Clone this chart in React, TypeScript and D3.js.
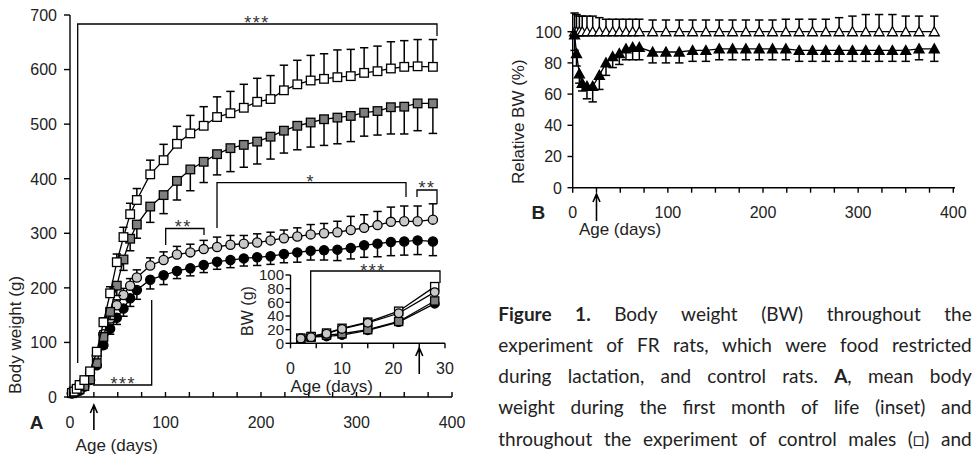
import React, { useEffect, useRef } from 'react';
import * as d3 from 'd3';

// ---------- DATA ----------
const days = [2, 4, 7, 10, 15, 21, 28, 35, 42, 49, 56, 63, 70, 84, 98, 112, 126, 140, 154, 168, 182, 196, 210, 224, 238, 252, 266, 280, 294, 308, 322, 336, 350, 364, 380];

const ctrlMale = [7.5, 10, 15, 22, 31, 47, 83, 137, 190, 247, 293, 335, 361, 408, 434, 464, 483, 497, 513, 520, 530, 541, 546, 562, 573, 580, 583, 586, 588, 594, 597, 602, 605, 606, 605];
const ctrlMaleErr = [0, 0, 1, 1, 2, 3, 5, 8, 12, 15, 18, 20, 21, 26, 29, 32, 33, 35, 37, 40, 43, 43, 43, 46, 44, 46, 46, 50, 49, 46, 46, 49, 48, 49, 50];

const frMale = [7, 9, 12, 14, 20, 32, 62, 110, 156, 204, 252, 290, 316, 349, 370, 396, 417, 431, 445, 456, 462, 468, 477, 488, 497, 503, 509, 512, 515, 521, 524, 531, 532, 538, 538];
const frMaleErr = [0, 0, 1, 1, 2, 3, 6, 10, 14, 18, 20, 22, 25, 29, 34, 35, 39, 38, 38, 43, 41, 41, 41, 41, 44, 45, 48, 48, 47, 43, 44, 49, 50, 50, 55];

const ctrlFemale = [7, 9, 14, 21, 30, 44, 75, 115, 144, 168, 187, 204, 219, 241, 251, 261, 265, 271, 275, 279, 281, 283, 287, 291, 294, 298, 300, 302, 306, 310, 315, 321, 322, 322, 325];
const ctrlFemaleErr = [0, 0, 1, 1, 2, 3, 4, 6, 8, 10, 12, 13, 14, 14, 15, 15, 15, 16, 18, 17, 15, 16, 15, 15, 16, 18, 18, 20, 25, 24, 25, 27, 28, 28, 29];

const frFemale = [7, 9, 10, 12, 19, 31, 58, 95, 125, 145, 162, 181, 196, 215, 223, 231, 236, 242, 248, 251, 254, 256, 258, 262, 265, 268, 269, 270, 273, 278, 281, 284, 285, 287, 285];
const frFemaleErr = [0, 0, 1, 1, 2, 3, 4, 6, 10, 12, 14, 15, 17, 17, 17, 14, 14, 14, 14, 14, 14, 15, 15, 16, 18, 17, 18, 20, 20, 22, 24, 25, 25, 26, 26];

const insetCount = 7; // first-month points shown in the inset

const relCtrl = [100, 100, 100, 100, 100, 100, 100, 100, 100, 100, 100, 100, 100, 100, 100, 100, 100, 100, 100, 100, 100, 100, 100, 100, 100, 100, 100, 100, 100, 100, 100, 100, 100, 100, 100];
const relCtrlErr = [12, 11, 10, 10, 10, 10, 9, 8, 8, 8, 8, 8, 8, 7.5, 7.5, 7.5, 7.5, 7.5, 7.5, 7.5, 7.5, 7.5, 7.5, 8, 8, 8, 8, 9, 10, 11, 11, 11, 10, 10, 10];
const relFR = [98, 86, 73, 67, 65, 65, 72, 80, 84, 86, 89, 90, 90, 87, 87, 87, 88, 88, 89, 89, 89, 89, 89, 89, 88, 88, 88, 88, 88, 88, 88, 88, 88, 89, 89];
const relFRErr = [10, 8, 6, 5, 8, 10, 9, 8, 7, 7, 7, 8, 8, 7, 7, 7, 7, 7, 7, 7, 7, 7, 7, 7, 7, 7, 7, 7, 7, 7, 7, 7, 7, 7, 8];

const yTicksA = [0, 100, 200, 300, 400, 500, 600, 700];
const xLabelsA = [0, 100, 200, 300, 400];
const yTicksInset = [0, 20, 40, 60, 80, 100];
const xLabelsInset = [0, 10, 20, 30];
const yTicksB = [0, 20, 40, 60, 80, 100];
const xLabelsB = [0, 100, 200, 300, 400];
const arrowDay = 25;

const captionLines = [
  '[Figure] [1.] Body weight (BW) throughout the',
  'experiment of FR rats, which were food restricted',
  'during lactation, and control rats. [A], mean body',
  'weight during the first month of life (inset) and',
  'throughout the experiment of control males (\u25A1) and',
];

// ---------- DRAWING ----------
const FONT = '"Liberation Sans", Arial, Helvetica, sans-serif';
const CAPFONT = 'Lato, "Open Sans", sans-serif';
const TXT = '#222';

type Sel = d3.Selection<SVGGElement, unknown, null, undefined>;

function drawSeries(
  g: Sel, xs: d3.ScaleLinear<number, number>, ys: d3.ScaleLinear<number, number>,
  dx: number[], vals: number[], errs: number[] | null, dir: number,
  shape: 'square' | 'circle' | 'triangle', fill: string, size: number,
) {
  const pts = dx.map((d, i) => ({ d, v: vals[i], e: errs ? errs[i] : 0 }));
  if (errs) {
    const eg = g.append('g').attr('stroke', '#000').attr('stroke-width', 1.5).attr('fill', 'none');
    pts.forEach((p) => {
      if (p.e <= 0) return;
      const cx = xs(p.d);
      const y0 = ys(p.v);
      const y1 = ys(p.v + dir * p.e);
      eg.append('line').attr('x1', cx).attr('x2', cx).attr('y1', y0).attr('y2', y1);
      eg.append('line').attr('x1', cx - 4.2).attr('x2', cx + 4.2).attr('y1', y1).attr('y2', y1);
    });
  }
  const line = d3.line<{ d: number; v: number }>().x((p) => xs(p.d)).y((p) => ys(p.v));
  g.append('path').attr('d', line(pts) as string).attr('fill', 'none').attr('stroke', '#000').attr('stroke-width', 1.3);
  const mg = g.append('g').attr('stroke', '#000').attr('stroke-width', 1.3).attr('fill', fill);
  pts.forEach((p) => {
    const cx = xs(p.d);
    const cy = ys(p.v);
    if (shape === 'square') {
      mg.append('rect').attr('x', cx - size / 2).attr('y', cy - size / 2).attr('width', size).attr('height', size);
    } else if (shape === 'circle') {
      mg.append('circle').attr('cx', cx).attr('cy', cy).attr('r', size / 2);
    } else {
      const h = size * 0.9;
      mg.append('path').attr('d', `M${cx},${cy - h * 0.55}L${cx + size / 2},${cy + h * 0.45}L${cx - size / 2},${cy + h * 0.45}Z`);
    }
  });
}

function arrow(g: Sel, x: number, y0: number, y1: number) {
  g.append('path')
    .attr('d', `M${x},${y1}V${y0}M${x - 3.5},${y0 + 8}L${x},${y0}L${x + 3.5},${y0 + 8}`)
    .attr('fill', 'none').attr('stroke', '#000').attr('stroke-width', 1.6);
}

function stars(g: Sel, x: number, yc: number, t: string, fs = 17) {
  g.append('text').attr('x', x).attr('y', yc + 0.57 * fs).attr('text-anchor', 'middle')
    .attr('font-family', FONT).attr('font-size', fs).attr('letter-spacing', 1.5).attr('fill', '#333').text(t);
}

function bracket(g: Sel, d: string) {
  g.append('path').attr('d', d).attr('fill', 'none').attr('stroke', '#000').attr('stroke-width', 1.3);
}

function draw(svgEl: SVGSVGElement) {
  const svg = d3.select(svgEl);
  svg.selectAll('*').remove();
  const root = svg.append('g') as unknown as Sel;

  // ===== Panel A =====
  const x = d3.scaleLinear().domain([0, 400]).range([70, 452]);
  const y = d3.scaleLinear().domain([0, 700]).range([397, 15]);
  const A = root.append('g') as unknown as Sel;

  // brackets
  bracket(A, `M77.7,363V24H437V36`);
  stars(A, 257, 18.5, '***', 18);
  bracket(A, `M93,385H151.7V300`);
  stars(A, 123.3, 379.5, '***', 18);
  bracket(A, `M165.7,245V228.5H204V235`);
  stars(A, 183.3, 222.5, '**', 18);
  bracket(A, `M217,228V182.7H406V197`);
  stars(A, 310.7, 177.5, '*', 18);
  bracket(A, `M417,197V190H437V204`);
  stars(A, 427, 183.5, '**', 18);

  drawSeries(A, x, y, days, frFemale, frFemaleErr, -1, 'circle', '#000', 9.2);
  drawSeries(A, x, y, days, ctrlFemale, ctrlFemaleErr, 1, 'circle', '#c8c8c8', 9.2);
  drawSeries(A, x, y, days, frMale, frMaleErr, -1, 'square', '#7f7f7f', 8.6);
  drawSeries(A, x, y, days, ctrlMale, ctrlMaleErr, 1, 'square', '#fff', 8.6);

  // axes
  const ax = A.append('g').attr('stroke', '#000').attr('stroke-width', 1.4);
  ax.append('line').attr('x1', 70).attr('x2', 70).attr('y1', 15).attr('y2', 397);
  ax.append('line').attr('x1', 70).attr('x2', 452).attr('y1', 397).attr('y2', 397);
  yTicksA.forEach((t) => {
    ax.append('line').attr('x1', 64).attr('x2', 70).attr('y1', y(t)).attr('y2', y(t));
    A.append('text').attr('x', 57).attr('y', y(t) + 5.8).attr('text-anchor', 'end')
      .attr('font-family', FONT).attr('font-size', 16).attr('fill', TXT).text(String(t));
  });
  d3.range(0, 401, 25).forEach((t) => {
    ax.append('line').attr('x1', x(t)).attr('x2', x(t)).attr('y1', 397).attr('y2', 392);
  });
  xLabelsA.forEach((t) => {
    A.append('text').attr('x', x(t)).attr('y', 427.5).attr('text-anchor', 'middle')
      .attr('font-family', FONT).attr('font-size', 16).attr('fill', TXT).text(String(t));
  });
  arrow(A, x(arrowDay), 405, 430);
  A.append('text').attr('x', 36.7).attr('y', 428.5).attr('text-anchor', 'middle')
    .attr('font-family', FONT).attr('font-size', 19).attr('font-weight', 'bold').attr('fill', TXT).text('A');
  A.append('text').attr('x', 116.7).attr('y', 451).attr('text-anchor', 'middle')
    .attr('font-family', FONT).attr('font-size', 17).attr('fill', TXT).text('Age (days)');
  A.append('text').attr('transform', 'translate(20.7,335) rotate(-90)').attr('text-anchor', 'middle')
    .attr('font-family', FONT).attr('font-size', 17).attr('fill', TXT).text('Body weight (g)');

  // ===== Inset =====
  const xi = d3.scaleLinear().domain([0, 30]).range([290.5, 445]);
  const yi = d3.scaleLinear().domain([0, 100]).range([343.3, 275]);
  const I = root.append('g') as unknown as Sel;
  bracket(I, `M310.7,338V271H440V283`);
  stars(I, 373, 266.5, '***', 18);
  const idays = days.slice(0, insetCount);
  drawSeries(I, xi, yi, idays, frFemale.slice(0, insetCount), null, -1, 'circle', '#000', 8.6);
  drawSeries(I, xi, yi, idays, frMale.slice(0, insetCount), null, -1, 'square', '#7f7f7f', 8.2);
  drawSeries(I, xi, yi, idays, ctrlMale.slice(0, insetCount), null, 1, 'square', '#fff', 8.2);
  drawSeries(I, xi, yi, idays, ctrlFemale.slice(0, insetCount), null, 1, 'circle', '#c8c8c8', 8.6);
  const iax = I.append('g').attr('stroke', '#000').attr('stroke-width', 1.4);
  iax.append('line').attr('x1', 290.5).attr('x2', 290.5).attr('y1', 275).attr('y2', 343.3);
  iax.append('line').attr('x1', 290.5).attr('x2', 445).attr('y1', 343.3).attr('y2', 343.3);
  yTicksInset.forEach((t) => {
    iax.append('line').attr('x1', 285.5).attr('x2', 290.5).attr('y1', yi(t)).attr('y2', yi(t));
    I.append('text').attr('x', 284).attr('y', yi(t) + 5.2).attr('text-anchor', 'end')
      .attr('font-family', FONT).attr('font-size', 15).attr('fill', TXT).text(String(t));
  });
  d3.range(0, 31, 5).forEach((t) => {
    iax.append('line').attr('x1', xi(t)).attr('x2', xi(t)).attr('y1', 343.3).attr('y2', 348.3);
  });
  xLabelsInset.forEach((t) => {
    I.append('text').attr('x', xi(t)).attr('y', 374).attr('text-anchor', 'middle')
      .attr('font-family', FONT).attr('font-size', 16).attr('fill', TXT).text(String(t));
  });
  arrow(I, xi(arrowDay), 348, 374);
  I.append('text').attr('x', 331.7).attr('y', 391.5).attr('text-anchor', 'middle')
    .attr('font-family', FONT).attr('font-size', 17).attr('fill', TXT).text('Age (days)');
  I.append('text').attr('transform', 'translate(253,311) rotate(-90)').attr('text-anchor', 'middle')
    .attr('font-family', FONT).attr('font-size', 16).attr('fill', TXT).text('BW (g)');

  // ===== Panel B =====
  const xb = d3.scaleLinear().domain([0, 400]).range([572.7, 953.3]);
  const yb = d3.scaleLinear().domain([0, 100]).range([187.7, 31.7]);
  const B = root.append('g') as unknown as Sel;
  drawSeries(B, xb, yb, days, relCtrl, relCtrlErr, 1, 'triangle', '#fff', 10);
  drawSeries(B, xb, yb, days, relFR, relFRErr, -1, 'triangle', '#000', 10);
  const bax = B.append('g').attr('stroke', '#000').attr('stroke-width', 1.4);
  bax.append('line').attr('x1', 572.7).attr('x2', 572.7).attr('y1', 13).attr('y2', 187.7);
  bax.append('line').attr('x1', 572.7).attr('x2', 955).attr('y1', 187.7).attr('y2', 187.7);
  yTicksB.forEach((t) => {
    bax.append('line').attr('x1', 567.5).attr('x2', 572.7).attr('y1', yb(t)).attr('y2', yb(t));
    B.append('text').attr('x', 562).attr('y', yb(t) + 5.8).attr('text-anchor', 'end')
      .attr('font-family', FONT).attr('font-size', 16).attr('fill', TXT).text(String(t));
  });
  d3.range(0, 401, 25).forEach((t) => {
    bax.append('line').attr('x1', xb(t)).attr('x2', xb(t)).attr('y1', 187.7).attr('y2', 192.7);
  });
  xLabelsB.forEach((t) => {
    B.append('text').attr('x', xb(t)).attr('y', 217.5).attr('text-anchor', 'middle')
      .attr('font-family', FONT).attr('font-size', 16).attr('fill', TXT).text(String(t));
  });
  arrow(B, xb(arrowDay), 194, 221);
  B.append('text').attr('x', 538.3).attr('y', 218.5).attr('text-anchor', 'middle')
    .attr('font-family', FONT).attr('font-size', 19).attr('font-weight', 'bold').attr('fill', TXT).text('B');
  B.append('text').attr('x', 620).attr('y', 235).attr('text-anchor', 'middle')
    .attr('font-family', FONT).attr('font-size', 17).attr('fill', TXT).text('Age (days)');
  B.append('text').attr('transform', 'translate(524,121.7) rotate(-90)').attr('text-anchor', 'middle')
    .attr('font-family', FONT).attr('font-size', 17).attr('fill', TXT).text('Relative BW (%)');

  // ===== Caption =====
  const C = root.append('g') as unknown as Sel;
  const left = 498.3;
  const right = 971.7;
  const baselines = [320.5, 351.7, 383, 414.2, 445.5];
  captionLines.forEach((line, i) => {
    const words = line.split(' ');
    const nodes = words.map((w) => {
      const t = C.append('text').attr('y', baselines[i]).attr('font-family', CAPFONT)
        .attr('font-size', 19).attr('fill', '#222');
      w.split(/(\[[^\]]*\])/).filter(Boolean).forEach((p) => {
        if (p.startsWith('[')) t.append('tspan').attr('font-weight', 'bold').text(p.slice(1, -1));
        else t.append('tspan').text(p);
      });
      return t;
    });
    const widths = nodes.map((n) => (n.node() as SVGTextElement).getComputedTextLength());
    const gap = (right - left - d3.sum(widths)) / (words.length - 1);
    let xx = left;
    nodes.forEach((n, j) => { n.attr('x', xx); xx += widths[j] + gap; });
  });
}

export default function App() {
  const ref = useRef<SVGSVGElement>(null);
  useEffect(() => {
    if (ref.current) draw(ref.current);
  }, []);
  return (
    <svg ref={ref} width={976} height={457}
      style={{ position: 'absolute', left: 0, top: 0, background: '#fff', display: 'block' }} />
  );
}
